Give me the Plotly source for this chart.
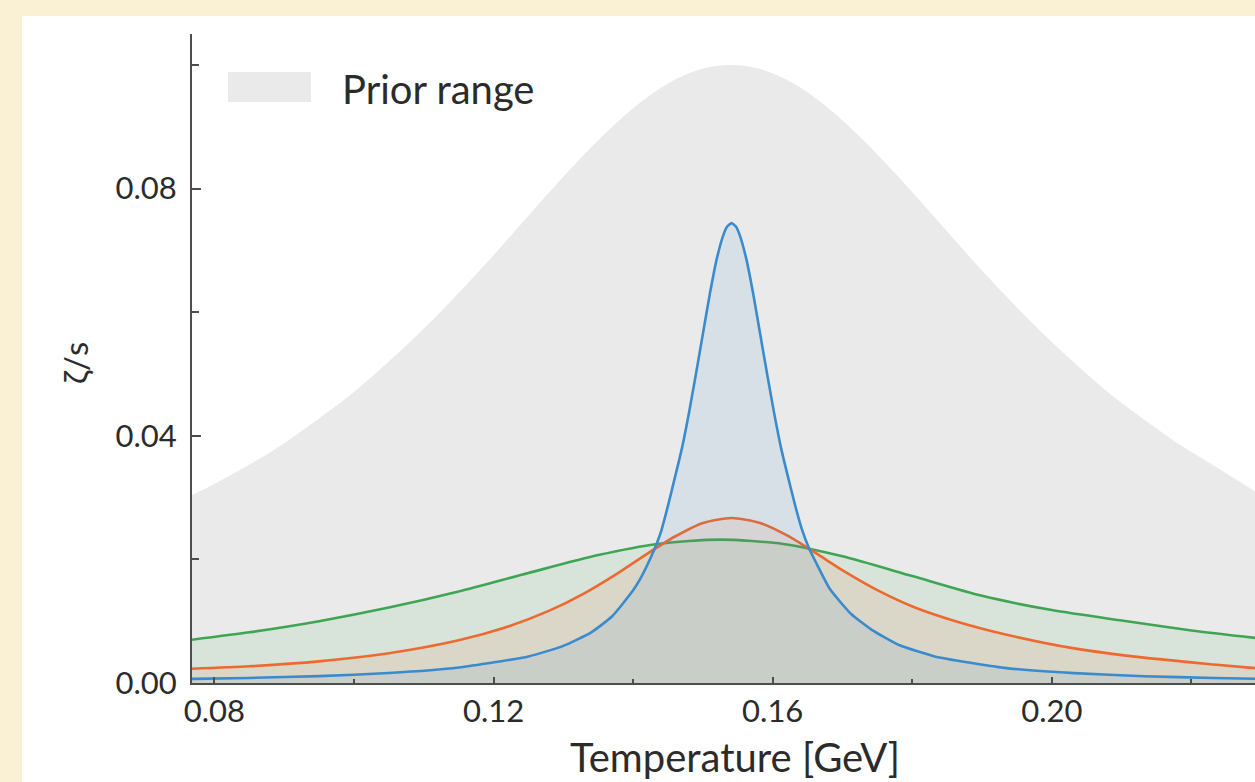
import plotly.graph_objects as go

# Temperature (GeV) and zeta/s values for each curve
prior_T = [0.0768, 0.080, 0.085, 0.090, 0.095, 0.100, 0.105, 0.110, 0.115, 0.120,
           0.125, 0.130, 0.135, 0.140, 0.145, 0.150, 0.154, 0.158, 0.163, 0.168,
           0.173, 0.178, 0.183, 0.188, 0.193, 0.198, 0.203, 0.208, 0.213, 0.218,
           0.223, 0.2291]
prior_zeta = [0.0304, 0.0322, 0.0353, 0.0388, 0.0428, 0.0471, 0.0520, 0.0573, 0.0631, 0.0692,
              0.0756, 0.0819, 0.0878, 0.0930, 0.0970, 0.0994, 0.1000, 0.0994, 0.0970, 0.0930,
              0.0878, 0.0819, 0.0756, 0.0692, 0.0631, 0.0573, 0.0520, 0.0471, 0.0428, 0.0388,
              0.0353, 0.0310]

blue_T = [0.0768, 0.085, 0.095, 0.105, 0.115, 0.125, 0.130, 0.134, 0.137, 0.140,
          0.141, 0.142, 0.143, 0.144, 0.145, 0.146, 0.147, 0.148, 0.149, 0.150,
          0.151, 0.152, 0.153, 0.1535, 0.1541, 0.1547, 0.1552, 0.1562, 0.1572, 0.1582,
          0.1592, 0.1602, 0.1612, 0.1622, 0.1632, 0.1642, 0.1652, 0.1662, 0.1682, 0.1712,
          0.1742, 0.1782, 0.1832, 0.1932, 0.2032, 0.2132, 0.2232, 0.2291]
blue_zeta = [0.00066, 0.00082, 0.00112, 0.00161, 0.00251, 0.00430, 0.00600, 0.00820, 0.01080, 0.01500,
             0.01680, 0.01900, 0.02150, 0.02450, 0.02870, 0.03330, 0.03800, 0.04370, 0.05000, 0.05650,
             0.06300, 0.06870, 0.07270, 0.07390, 0.07440, 0.07390, 0.07270, 0.06870, 0.06300, 0.05650,
             0.05000, 0.04370, 0.03800, 0.03330, 0.02880, 0.02480, 0.02180, 0.01950, 0.01520, 0.01120,
             0.00860, 0.00610, 0.00430, 0.00245, 0.00160, 0.00110, 0.00082, 0.00068]

orange_T = [0.0768, 0.085, 0.095, 0.105, 0.115, 0.122, 0.128, 0.133, 0.138, 0.142,
            0.146, 0.150, 0.1541, 0.1582, 0.1622, 0.1662, 0.1702, 0.1752, 0.1802, 0.1862,
            0.1932, 0.2032, 0.2132, 0.2232, 0.2291]
orange_zeta = [0.0023, 0.0027, 0.0035, 0.0048, 0.0069, 0.0091, 0.0117, 0.0145, 0.0179, 0.0209,
               0.0237, 0.0259, 0.0267, 0.0259, 0.0238, 0.0210, 0.0181, 0.0149, 0.0123, 0.0100,
               0.0079, 0.0056, 0.0041, 0.0030, 0.0024]

green_T = [0.0768, 0.085, 0.095, 0.105, 0.115, 0.125, 0.135, 0.1435, 0.1525, 0.1615,
           0.170, 0.180, 0.190, 0.200, 0.210, 0.220, 0.2291]
green_zeta = [0.0070, 0.0082, 0.0100, 0.0122, 0.0148, 0.0178, 0.0207, 0.0225, 0.0232, 0.0225,
              0.0205, 0.0173, 0.0141, 0.0118, 0.0101, 0.0085, 0.0073]

x_ticks = [0.08, 0.12, 0.16, 0.20]
x_minor = [0.10, 0.14, 0.18, 0.22]
y_ticks = [0.00, 0.04, 0.08]
y_minor = [0.02, 0.06, 0.10]

FONT = "Lato"
TEXT = "#2b2b2b"
AXIS = "#4d4d4d"

fig = go.Figure()

fig.add_trace(go.Scatter(
    x=prior_T, y=prior_zeta, mode="none", fill="tozeroy",
    fillcolor="#eaeaea", line_shape="spline", showlegend=False, hoverinfo="skip"))

curves = [
    (green_T, green_zeta, "#3ea653", "rgba(62,166,83,0.10)", 0.7),
    (orange_T, orange_zeta, "#ec6a30", "rgba(236,106,48,0.10)", 0.7),
    (blue_T, blue_zeta, "#3a8bcd", "rgba(58,139,205,0.10)", 0.5),
]
for t, z, col, fillcol, smooth in curves:
    fig.add_trace(go.Scatter(
        x=t, y=z, mode="lines", fill="tozeroy", fillcolor=fillcol,
        line=dict(color=col, width=2.6, shape="spline", smoothing=smooth),
        showlegend=False))

fig.update_xaxes(
    range=[0.0768, 0.2291], tickvals=x_ticks, ticktext=["0.08", "0.12", "0.16", "0.20"],
    ticks="inside", ticklen=6, tickwidth=1.5, tickcolor=AXIS,
    minor=dict(tickvals=x_minor, ticks="inside", ticklen=4, tickwidth=1.5, tickcolor=AXIS),
    showline=True, linecolor=AXIS, linewidth=2, showgrid=False, zeroline=False,
    tickfont=dict(family=FONT, size=31, color=TEXT), ticklabelstandoff=0)

fig.update_yaxes(
    range=[0, 0.105], tickvals=y_ticks, ticktext=["0.00", "0.04", "0.08"],
    ticks="inside", ticklen=9, tickwidth=1.5, tickcolor=AXIS,
    minor=dict(tickvals=y_minor, ticks="inside", ticklen=7, tickwidth=1.5, tickcolor=AXIS),
    showline=True, linecolor=AXIS, linewidth=2, showgrid=False, zeroline=False,
    tickfont=dict(family=FONT, size=31, color=TEXT), ticklabelstandoff=7)

PL, PT, PB = 192, 34, 683
W, H = 1255, 782
PW, PH = W - PL, PB - PT

def px(x):
    return (x - PL) / PW

def py(y):
    return (PB - y) / PH

shapes = [
    # white panel behind the chart
    dict(type="rect", xref="paper", yref="paper", x0=px(22), x1=px(W + 5),
         y0=py(H + 5), y1=py(16), fillcolor="white", line_width=0, layer="below"),
    # legend swatch
    dict(type="rect", xref="paper", yref="paper", x0=px(228), x1=px(311),
         y0=py(102), y1=py(72), fillcolor="#eaeaea", line_width=0, layer="above"),
]

annotations = [
    dict(text="Prior range", xref="paper", yref="paper", x=px(340), y=py(89),
         xanchor="left", yanchor="middle", showarrow=False,
         font=dict(family=FONT, size=40, color=TEXT)),
    dict(text="Temperature [GeV]", xref="paper", yref="paper", x=px(735), y=py(757),
         xanchor="center", yanchor="middle", showarrow=False,
         font=dict(family=FONT, size=40, color=TEXT)),
    dict(text="ζ/s", xref="paper", yref="paper", x=px(75), y=py(363),
         xanchor="center", yanchor="middle", textangle=-90, showarrow=False,
         font=dict(family=FONT, size=33, color=TEXT)),
]

fig.update_layout(
    width=W, height=H, margin=dict(l=PL, r=0, t=PT, b=H - PB),
    paper_bgcolor="#faf0d3", plot_bgcolor="rgba(0,0,0,0)",
    shapes=shapes, annotations=annotations, showlegend=False)

fig.write_html("out.html")
